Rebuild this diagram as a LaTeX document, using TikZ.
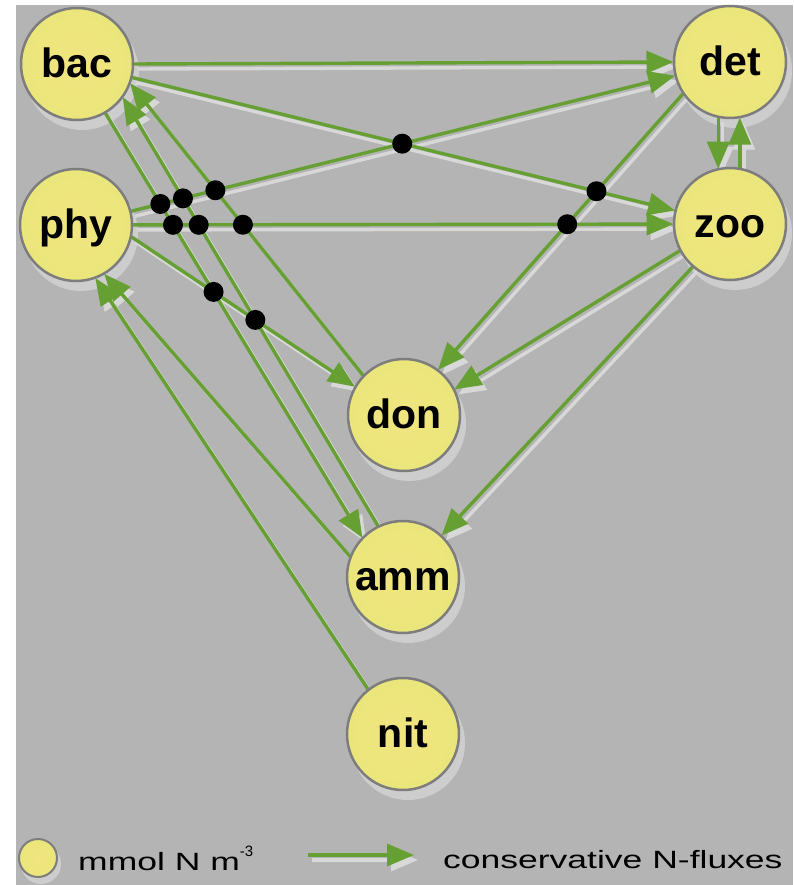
\documentclass[tikz,border=0pt]{standalone}
\usepackage{fontspec}
\setmainfont{Liberation Sans}
\usetikzlibrary{arrows.meta,intersections,calc}
\pgfdeclarelayer{back}
\pgfdeclarelayer{lines}
\pgfsetlayers{back,lines,main}
\definecolor{bggray}{RGB}{180,180,180}
\definecolor{flux}{RGB}{102,160,50}
\definecolor{fluxshadow}{RGB}{216,216,216}
\definecolor{nodeshadow}{RGB}{205,205,205}
\definecolor{rimgray}{RGB}{125,125,125}
\definecolor{yin}{RGB}{241,229,128}
\definecolor{yout}{RGB}{228,231,118}
\pgfdeclareradialshading{poolshade}{\pgfpoint{0bp}{0bp}}{color(0bp)=(yin); color(50bp)=(yout)}
\tikzset{
  pool/.style={circle, minimum size=112pt, inner sep=0pt, outer sep=0.5pt,
    draw=rimgray, line width=2.5pt, shading=poolshade,
    font=\bfseries\fontsize{41}{41}\selectfont, text height=27pt, text depth=0pt},
  keypool/.style={pool, minimum size=38pt, line width=2pt},
  fluxarrow/.style={draw=flux, line width=3.4pt, -{Triangle[length=27pt,width=22pt]}},
  fluxshade/.style={draw=fluxshadow, line width=3.4pt, -{Triangle[length=27pt,width=22pt]},
    transform canvas={shift={(4pt,-5pt)}}},
  crossdot/.style={fill=black},
  keytext/.style={anchor=base west, inner sep=0pt, font=\fontsize{25}{25}\selectfont},
}
\newcommand{\markcross}[2]{%
  \path[name intersections={of=#1 and #2, by=cx}];
  \fill[crossdot] (cx) circle (10pt);}
\begin{document}
\begin{tikzpicture}[x=1pt,y=1pt]
\useasboundingbox (0,0) rectangle (793,-885);
% pools
\node[pool] (bac) at (77,-64) {bac};
\node[pool] (phy) at (76,-225) {phy};
\node[pool] (det) at (730,-62) {det};
\node[pool] (zoo) at (730,-224) {zoo};
\node[pool] (don) at (404,-415) {don};
\node[pool] (amm) at (403,-577) {amm};
\node[pool] (nit) at (403,-734) {nit};
% legend
\node[keypool] (key) at (38,-858) {};
\node[keytext] (unit) at (78,-870) {\scalebox{1.42}[1]{mmol N m}\raisebox{14pt}{\fontsize{15}{15}\selectfont -3}};
\node[keytext] (fluxlabel) at (443,-868) {\scalebox{1.42}[1]{conservative N-fluxes}};
\coordinate (la) at (308,-855);
\coordinate (lb) at (414,-855);

\begin{pgfonlayer}{back}
  \fill[white] (0,0) rectangle (793,-885);
  \fill[bggray] (16,-5) rectangle (793,-885);
  \foreach \n in {bac,phy,det,zoo,don,amm,nit}
    \fill[nodeshadow] ([shift={(5pt,-9pt)}]\n.center) circle (57pt);
  \fill[nodeshadow] ([shift={(3pt,-6pt)}]key.center) circle (20pt);
\end{pgfonlayer}

\begin{pgfonlayer}{lines}
  % shadows of the fluxes
  \draw[fluxshade] (bac.0) -- (det.180);
  \draw[fluxshade] (bac) -- (zoo);
  \draw[fluxshade] (phy) -- (det);
  \draw[fluxshade] (phy) -- (zoo);
  \draw[fluxshade] (phy.-12) -- (don.150);
  \draw[fluxshade] (det.258) -- (zoo.102);
  \draw[fluxshade] (zoo.80) -- (det.280);
  \draw[fluxshade] (det.214) -- (don.53);
  \draw[fluxshade] (zoo.208) -- (don.27);
  \draw[fluxshade] (zoo.229) -- (amm.47);
  \draw[fluxshade] (bac.-60) -- (amm.136);
  \draw[fluxshade] (amm.116) -- (bac.-36);
  \draw[fluxshade] (don.136) -- (bac.-20);
  \draw[fluxshade] (amm.159) -- (phy.-60);
  \draw[fluxshade] (nit.128) -- (phy.-70);
  \draw[fluxshade] (la) -- (lb);
  % fluxes
  \draw[fluxarrow, name path=BD] (bac.0) -- (det.180);
  \draw[fluxarrow, name path=BZ] (bac) -- (zoo);
  \draw[fluxarrow, name path=PD] (phy) -- (det);
  \draw[fluxarrow, name path=PZ] (phy) -- (zoo);
  \draw[fluxarrow, name path=PN] (phy.-12) -- (don.150);
  \draw[fluxarrow] (det.258) -- (zoo.102);
  \draw[fluxarrow] (zoo.80) -- (det.280);
  \draw[fluxarrow, name path=DN] (det.214) -- (don.53);
  \draw[fluxarrow] (zoo.208) -- (don.27);
  \draw[fluxarrow] (zoo.229) -- (amm.47);
  \draw[fluxarrow, name path=BA] (bac.-60) -- (amm.136);
  \draw[fluxarrow, name path=AB] (amm.116) -- (bac.-36);
  \draw[fluxarrow, name path=NB] (don.136) -- (bac.-20);
  \draw[fluxarrow] (amm.159) -- (phy.-60);
  \draw[fluxarrow] (nit.128) -- (phy.-70);
  \draw[fluxarrow] (la) -- (lb);
  % crossing marks
  \markcross{PD}{BA}
  \markcross{PD}{AB}
  \markcross{PD}{NB}
  \markcross{PZ}{BA}
  \markcross{PZ}{AB}
  \markcross{PZ}{NB}
  \markcross{PN}{BA}
  \markcross{PN}{AB}
  \markcross{BZ}{PD}
  \markcross{BZ}{DN}
  \markcross{PZ}{DN}
\end{pgfonlayer}
\end{tikzpicture}
\end{document}
